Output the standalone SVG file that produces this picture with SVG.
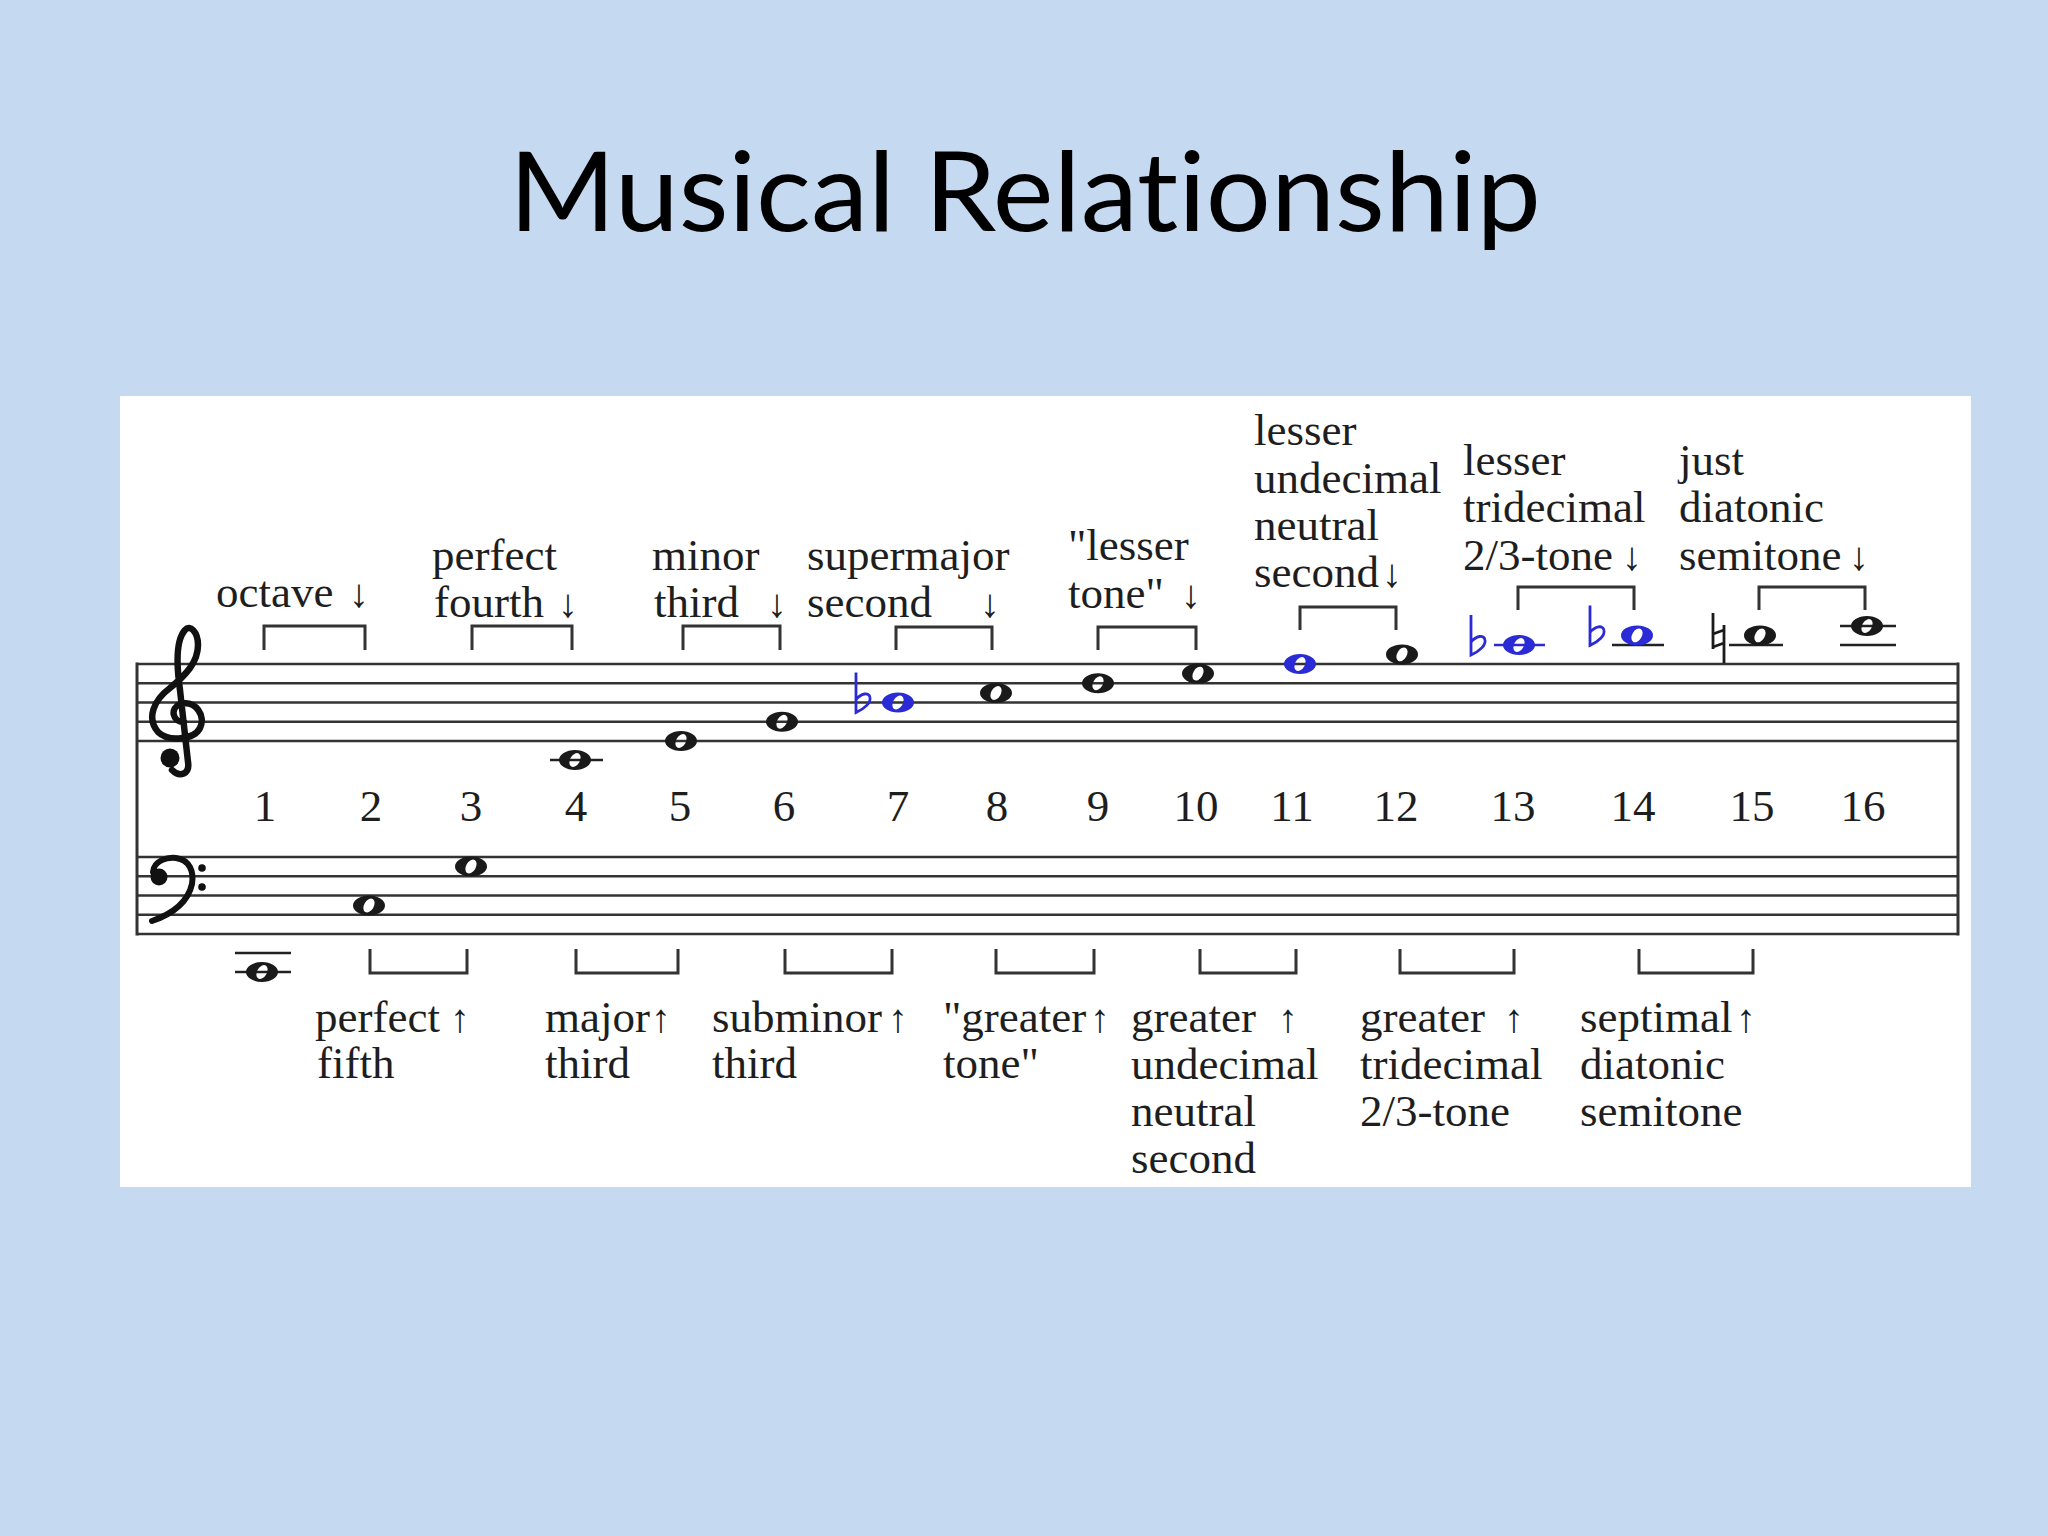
<svg xmlns="http://www.w3.org/2000/svg" xmlns:xlink="http://www.w3.org/1999/xlink" width="2048" height="1536" viewBox="0 0 2048 1536">
<style>
.title{font-family:Lato,"Open Sans","Liberation Sans",sans-serif;font-size:110px;fill:#000;font-variant-ligatures:none;font-feature-settings:"liga" 0,"dlig" 0}
.lbl{font-family:"Liberation Serif","Times New Roman",serif;font-size:45px;fill:#1e1e1e}
.num{font-family:"Liberation Serif","Times New Roman",serif;font-size:45px;fill:#1e1e1e;text-anchor:middle}
.arr{font-family:"Liberation Serif","DejaVu Serif",serif;font-size:40px;fill:#1e1e1e;text-anchor:middle}
.staff{stroke:#333;stroke-width:2.6;fill:none}
.bar{stroke:#333;stroke-width:3;fill:none}
.ledger{stroke:#222;stroke-width:2.6;fill:none}
.ledgerb{stroke:#2B2BD6;stroke-width:2.6;fill:none}
.brk{stroke:#333;stroke-width:3;fill:none}
.note{fill:#1a1a1a;fill-rule:evenodd}
.noteb{fill:#2B2BD6;fill-rule:evenodd}
.acc{stroke:#1a1a1a;stroke-width:2.8;fill:none}
.accb{stroke:#2B2BD6;stroke-width:2.8;fill:none}
.clef{stroke:#111;fill:none;stroke-linecap:round;stroke-linejoin:round}
</style>
<defs>
<path id="wn" d="M-16,0 a16,10 0 1,0 32,0 a16,10 0 1,0 -32,0 Z M-3.75,6.5 a7.5,4.8 -60 1,1 7.5,-13 a7.5,4.8 -60 1,1 -7.5,13 Z"/>
<path id="flat" d="M0,-30 V10 C9,6 15,0 14,-5 C13,-11 5,-9 0,-3"/>
<path id="natural" d="M0,-24 V12 M11,-12 V26 M0,-3 L11,-7 M0,10 L11,6"/>
</defs>

<rect x="0" y="0" width="2048" height="1536" fill="#C5D9F1"/>
<text id="title" class="title" x="1025" y="231" text-anchor="middle" textLength="1032" lengthAdjust="spacingAndGlyphs">Musical Relationship</text>

<rect id="panel" x="120" y="396" width="1851" height="791" fill="#FFFFFF"/>

<g id="staves">
  <g id="treble-staff" class="staff">
    <line x1="137" y1="664" x2="1958" y2="664"/>
    <line x1="137" y1="683.3" x2="1958" y2="683.3"/>
    <line x1="137" y1="702.5" x2="1958" y2="702.5"/>
    <line x1="137" y1="721.7" x2="1958" y2="721.7"/>
    <line x1="137" y1="741" x2="1958" y2="741"/>
  </g>
  <g id="bass-staff" class="staff">
    <line x1="137" y1="857" x2="1958" y2="857"/>
    <line x1="137" y1="876.3" x2="1958" y2="876.3"/>
    <line x1="137" y1="895.5" x2="1958" y2="895.5"/>
    <line x1="137" y1="914.8" x2="1958" y2="914.8"/>
    <line x1="137" y1="934" x2="1958" y2="934"/>
  </g>
  <g id="barlines" class="bar">
    <line x1="137" y1="662.5" x2="137" y2="935.5"/>
    <line x1="1958" y1="662.5" x2="1958" y2="935.5"/>
  </g>
</g>

<g id="treble-clef">
  <path class="clef" stroke-width="6.5" d="M184,722 C172,722 170,708 180,704 C196,700 206,716 200,728 C194,740 168,742 158,732 C146,718 154,700 170,688 C186,675 198,662 198,645 C198,632 190,624 185,630 C176,640 176,662 180,690 L188,762 C190,774 180,778 172,770"/>
  <circle cx="170" cy="758" r="9.5" fill="#111"/>
</g>
<g id="bass-clef">
  <path class="clef" stroke-width="6" d="M153,872 C154,860 168,857 176,858 C190,860 194,872 192,884 C188,902 172,914 152,921"/>
  <circle cx="159" cy="877" r="8.5" fill="#111"/>
  <circle cx="202" cy="868" r="3.8" fill="#111"/>
  <circle cx="202" cy="887" r="3.8" fill="#111"/>
</g>

<g id="notes">
  <g id="note-1"><line class="ledger" x1="235" y1="953" x2="291" y2="953"/><line class="ledger" x1="235" y1="972" x2="291" y2="972"/><use xlink:href="#wn" href="#wn" class="note" x="262" y="972"/></g>
  <g id="note-2"><use xlink:href="#wn" href="#wn" class="note" x="369" y="905.5"/></g>
  <g id="note-3"><use xlink:href="#wn" href="#wn" class="note" x="471" y="866.5"/></g>
  <g id="note-4"><line class="ledger" x1="550" y1="760" x2="603" y2="760"/><use xlink:href="#wn" href="#wn" class="note" x="575" y="760"/></g>
  <g id="note-5"><use xlink:href="#wn" href="#wn" class="note" x="681" y="741"/></g>
  <g id="note-6"><use xlink:href="#wn" href="#wn" class="note" x="782" y="721.7"/></g>
  <g id="note-7"><use xlink:href="#flat" href="#flat" class="accb" x="856" y="702.5"/><use xlink:href="#wn" href="#wn" class="noteb" x="898" y="702.5"/></g>
  <g id="note-8"><use xlink:href="#wn" href="#wn" class="note" x="996" y="693"/></g>
  <g id="note-9"><use xlink:href="#wn" href="#wn" class="note" x="1098" y="683.3"/></g>
  <g id="note-10"><use xlink:href="#wn" href="#wn" class="note" x="1198" y="673.6"/></g>
  <g id="note-11"><use xlink:href="#wn" href="#wn" class="noteb" x="1300" y="664"/></g>
  <g id="note-12"><use xlink:href="#wn" href="#wn" class="note" x="1402" y="654.4"/></g>
  <g id="note-13"><use xlink:href="#flat" href="#flat" class="accb" x="1471" y="645"/><line class="ledgerb" x1="1494" y1="645" x2="1545" y2="645"/><use xlink:href="#wn" href="#wn" class="noteb" x="1519" y="645"/></g>
  <g id="note-14"><use xlink:href="#flat" href="#flat" class="accb" x="1590" y="635.4"/><line class="ledger" x1="1612" y1="645" x2="1664" y2="645"/><use xlink:href="#wn" href="#wn" class="noteb" x="1637" y="635.4"/></g>
  <g id="note-15"><use xlink:href="#natural" href="#natural" class="acc" x="1713" y="637"/><line class="ledger" x1="1729" y1="645" x2="1783" y2="645"/><use xlink:href="#wn" href="#wn" class="note" x="1760" y="635.4"/></g>
  <g id="note-16"><line class="ledger" x1="1840" y1="626" x2="1896" y2="626"/><line class="ledger" x1="1840" y1="645" x2="1896" y2="645"/><use xlink:href="#wn" href="#wn" class="note" x="1867" y="626"/></g>
</g>

<g id="numbers" class="num">
  <text x="265" y="821">1</text><text x="371" y="821">2</text><text x="471" y="821">3</text><text x="576" y="821">4</text>
  <text x="680" y="821">5</text><text x="784" y="821">6</text><text x="898" y="821">7</text><text x="997" y="821">8</text>
  <text x="1098" y="821">9</text><text x="1196" y="821">10</text><text x="1292" y="821">11</text><text x="1396" y="821">12</text>
  <text x="1513" y="821">13</text><text x="1633" y="821">14</text><text x="1752" y="821">15</text><text x="1863" y="821">16</text>
</g>

<g id="connectors" class="brk">
  <path id="br-1-2" d="M264,650 V626 H365 V650"/>
  <path id="br-3-4" d="M472,650 V626 H572 V650"/>
  <path id="br-5-6" d="M683,650 V626 H780 V650"/>
  <path id="br-7-8" d="M896,650 V627 H992 V650"/>
  <path id="br-9-10" d="M1098,650 V627 H1196 V650"/>
  <path id="br-11-12" d="M1300,630 V607 H1396 V630"/>
  <path id="br-13-14" d="M1518,610 V587 H1634 V610"/>
  <path id="br-15-16" d="M1759,610 V587 H1865 V610"/>
  <path id="br-2-3" d="M370,949 V973 H467 V949"/>
  <path id="br-4-5" d="M576,949 V973 H678 V949"/>
  <path id="br-6-7" d="M785,949 V973 H892 V949"/>
  <path id="br-8-9" d="M996,949 V973 H1094 V949"/>
  <path id="br-10-11" d="M1200,949 V973 H1296 V949"/>
  <path id="br-12-13" d="M1400,949 V973 H1514 V949"/>
  <path id="br-14-15" d="M1639,949 V973 H1753 V949"/>
</g>

<g id="labels-above">
  <g id="lbl-octave"><text class="lbl" x="216" y="607">octave</text><text class="arr" x="359" y="607">↓</text></g>
  <g id="lbl-fourth"><text class="lbl" x="432" y="570">perfect</text><text class="lbl" x="434" y="617">fourth</text><text class="arr" x="568" y="617">↓</text></g>
  <g id="lbl-minor-third"><text class="lbl" x="652" y="570">minor</text><text class="lbl" x="654" y="617">third</text><text class="arr" x="777" y="617">↓</text></g>
  <g id="lbl-supermajor"><text class="lbl" x="807" y="570">supermajor</text><text class="lbl" x="807" y="617">second</text><text class="arr" x="990" y="617">↓</text></g>
  <g id="lbl-lesser-tone"><text class="lbl" x="1068" y="560">"lesser</text><text class="lbl" x="1068" y="608">tone"</text><text class="arr" x="1191" y="608">↓</text></g>
  <g id="lbl-lesser-undecimal"><text class="lbl" x="1254" y="445">lesser</text><text class="lbl" x="1254" y="493">undecimal</text><text class="lbl" x="1254" y="540">neutral</text><text class="lbl" x="1254" y="587">second</text><text class="arr" x="1392" y="587">↓</text></g>
  <g id="lbl-lesser-tridecimal"><text class="lbl" x="1463" y="475">lesser</text><text class="lbl" x="1463" y="522">tridecimal</text><text class="lbl" x="1463" y="570">2/3-tone</text><text class="arr" x="1632" y="570">↓</text></g>
  <g id="lbl-just-diatonic"><text class="lbl" x="1679" y="475">just</text><text class="lbl" x="1679" y="522">diatonic</text><text class="lbl" x="1679" y="570">semitone</text><text class="arr" x="1859" y="570">↓</text></g>
</g>

<g id="labels-below">
  <g id="lbl-fifth"><text class="lbl" x="315" y="1032">perfect</text><text class="lbl" x="317" y="1078">fifth</text><text class="arr" x="460" y="1032">↑</text></g>
  <g id="lbl-major-third"><text class="lbl" x="545" y="1032">major</text><text class="lbl" x="545" y="1078">third</text><text class="arr" x="661" y="1032">↑</text></g>
  <g id="lbl-subminor"><text class="lbl" x="712" y="1032">subminor</text><text class="lbl" x="712" y="1078">third</text><text class="arr" x="898" y="1032">↑</text></g>
  <g id="lbl-greater-tone"><text class="lbl" x="943" y="1032">"greater</text><text class="lbl" x="943" y="1078">tone"</text><text class="arr" x="1100" y="1032">↑</text></g>
  <g id="lbl-greater-undecimal"><text class="lbl" x="1131" y="1032">greater</text><text class="lbl" x="1131" y="1079">undecimal</text><text class="lbl" x="1131" y="1126">neutral</text><text class="lbl" x="1131" y="1173">second</text><text class="arr" x="1288" y="1032">↑</text></g>
  <g id="lbl-greater-tridecimal"><text class="lbl" x="1360" y="1032">greater</text><text class="lbl" x="1360" y="1079">tridecimal</text><text class="lbl" x="1360" y="1126">2/3-tone</text><text class="arr" x="1514" y="1032">↑</text></g>
  <g id="lbl-septimal"><text class="lbl" x="1580" y="1032">septimal</text><text class="lbl" x="1580" y="1079">diatonic</text><text class="lbl" x="1580" y="1126">semitone</text><text class="arr" x="1746" y="1032">↑</text></g>
</g>
</svg>
